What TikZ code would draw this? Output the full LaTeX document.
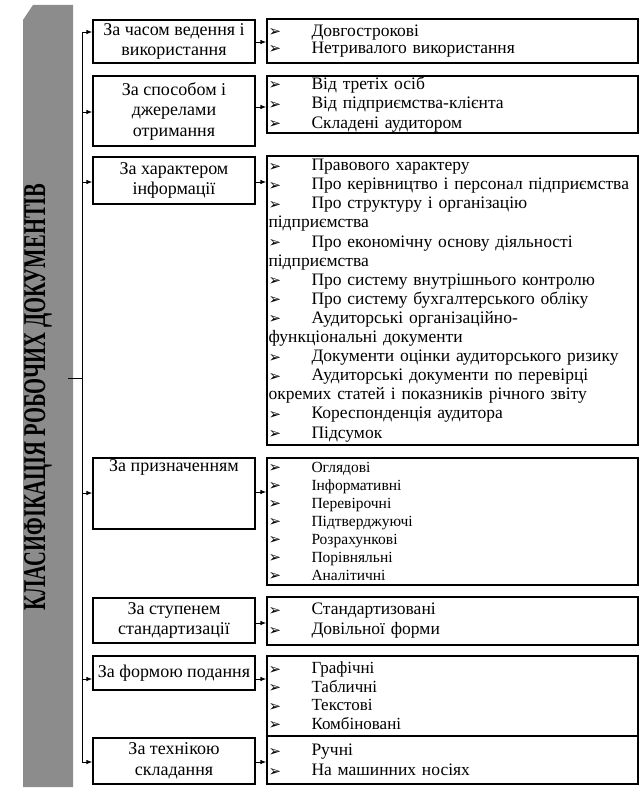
\documentclass[tikz,border=0pt]{standalone}
\usepackage{fontspec}
\usepackage{graphicx}
\setmainfont{Liberation Serif}
\newfontfamily\bulfont{DejaVu Sans}
\usetikzlibrary{arrows.meta,calc}
\newcommand{\bul}{{\bulfont\fontsize{15pt}{12pt}\selectfont ➢}}
\newcommand{\itm}[1]{\makebox[43pt][l]{\raisebox{-0.5pt}{\bul}}\mbox{#1}}
\begin{document}
\begin{tikzpicture}[x=1pt,y=-1pt,
  catbox/.style={draw, line width=1.3pt, minimum width=162pt, inner sep=1pt, align=center,
    font=\fontsize{18pt}{20.5pt}\selectfont},
  listbox/.style={draw, line width=1.3pt, minimum width=371pt, text width=368pt, inner xsep=1.5pt, inner ysep=0pt, align=left},
  arr/.style={-{Latex[length=6pt,width=4.5pt]}, line width=0.9pt},
  conn/.style={line width=1pt}
]
\useasboundingbox (0,0) rectangle (641,792);
% label column
\path[fill=black!45] (23,20) -- (33,5) -- (73,5) -- (73,787) -- (23,787) -- cycle;
\node[rotate=90, inner sep=0pt] (lab) at (38,397) {\resizebox{427pt}{21pt}{\bfseries КЛАСИФІКАЦІЯ РОБОЧИХ ДОКУМЕНТІВ}};
\coordinate (labE) at (68,378);
% category boxes
\node[catbox, minimum height=43pt] (c1) at (174,41.5) {За часом ведення і\\використання};
\node[catbox, minimum height=70pt] (c2) at (174,111) {За способом і\\джерелами\\отримання};
\node[catbox, minimum height=47pt] (c3) at (174,180.5) {За характером\\інформації};
\node[catbox, minimum height=71pt] (c4) at (174,493.5) {};
\node[anchor=north, inner sep=2pt, font=\fontsize{18pt}{20.5pt}\selectfont] (t4) at (c4.north) {За призначенням};
\node[catbox, minimum height=45pt] (c5) at (174,620.5) {За ступенем\\стандартизації};
\node[catbox, minimum height=34pt] (c6) at (174,673) {За формою подання};
\node[catbox, minimum height=46pt] (c7) at (174,761) {За технікою\\складання};
% list boxes
\node[listbox, minimum height=44pt, font=\fontsize{17.5pt}{17pt}\selectfont] (l1) at (452.5,41) {\itm{Довгострокові}\\\itm{Нетривалого використання}};
\node[listbox, minimum height=57pt, font=\fontsize{17.5pt}{19.5pt}\selectfont] (l2) at (452.5,104.5) {\itm{Від третіх осіб}\\\itm{Від підприємства-клієнта}\\\itm{Складені аудитором}};
\node[listbox, minimum height=289pt, font=\fontsize{17.5pt}{19.1pt}\selectfont] (l3) at (452.5,300.5) {\itm{Правового характеру}\\
\itm{Про керівництво і персонал підприємства}\\
\itm{Про структуру і організацію}\\підприємства\\
\itm{Про економічну основу діяльності}\\підприємства\\
\itm{Про систему внутрішнього контролю}\\
\itm{Про систему бухгалтерського обліку}\\
\itm{Аудиторські організаційно-}\\функціональні документи\\
\itm{Документи оцінки аудиторського ризику}\\
\itm{Аудиторські документи по перевірці}\\\mbox{окремих статей і показників річного звіту}\\
\itm{Кореспонденція аудитора}\\
\itm{Підсумок}};
\node[listbox, minimum height=127pt, font=\fontsize{15.5pt}{18pt}\selectfont] (l4) at (452.5,521.5) {\itm{Оглядові}\\\itm{Інформативні}\\\itm{Перевірочні}\\\itm{Підтверджуючі}\\\itm{Розрахункові}\\\itm{Порівняльні}\\\itm{Аналітичні}};
\node[listbox, minimum height=48pt, font=\fontsize{17.5pt}{20pt}\selectfont] (l5) at (452.5,621) {\itm{Стандартизовані}\\\itm{Довільної форми}};
\node[listbox, minimum height=80pt, font=\fontsize{17pt}{18.5pt}\selectfont] (l6) at (452.5,696) {\itm{Графічні}\\\itm{Табличні}\\\itm{Текстові}\\\itm{Комбіновані}};
\node[listbox, minimum height=48pt, font=\fontsize{17.5pt}{20pt}\selectfont] (l7) at (452.5,760) {\itm{Ручні}\\\itm{На машинних носіях}};
% bus
\coordinate (b1) at (82,32);
\coordinate (b2) at (82,112);
\coordinate (b3) at (82,182);
\coordinate (bL) at (82,378);
\coordinate (b4) at (82,493);
\coordinate (b6) at (82,679);
\coordinate (b7) at (82,762);
\draw[conn] (b1) -- (b7);
\draw[conn] (labE) -- (bL);
\draw[arr] (b1) -- (b1 -| c1.west);
\draw[arr] (b2) -- (b2 -| c2.west);
\draw[arr] (b3) -- (b3 -| c3.west);
\draw[arr] (b4) -- (b4 -| c4.west);
\draw[arr] (b6) -- (b6 -| c6.west);
\draw[arr] (b7) -- (b7 -| c7.west);
% right arrows
\coordinate (r1) at (255,42);
\coordinate (r2) at (255,107);
\coordinate (r3) at (255,182);
\coordinate (r4) at (255,492);
\coordinate (r5) at (255,623);
\coordinate (r6) at (255,679);
\coordinate (r7) at (255,762);
\draw[arr] (r1 -| c1.east) -- (r1 -| l1.west);
\draw[arr] (r2 -| c2.east) -- (r2 -| l2.west);
\draw[arr] (r3 -| c3.east) -- (r3 -| l3.west);
\draw[arr] (r4 -| c4.east) -- (r4 -| l4.west);
\draw[arr] (r5 -| c5.east) -- (r5 -| l5.west);
\draw[arr] (r6 -| c6.east) -- (r6 -| l6.west);
\draw[arr] (r7 -| c7.east) -- (r7 -| l7.west);
\end{tikzpicture}
\end{document}
